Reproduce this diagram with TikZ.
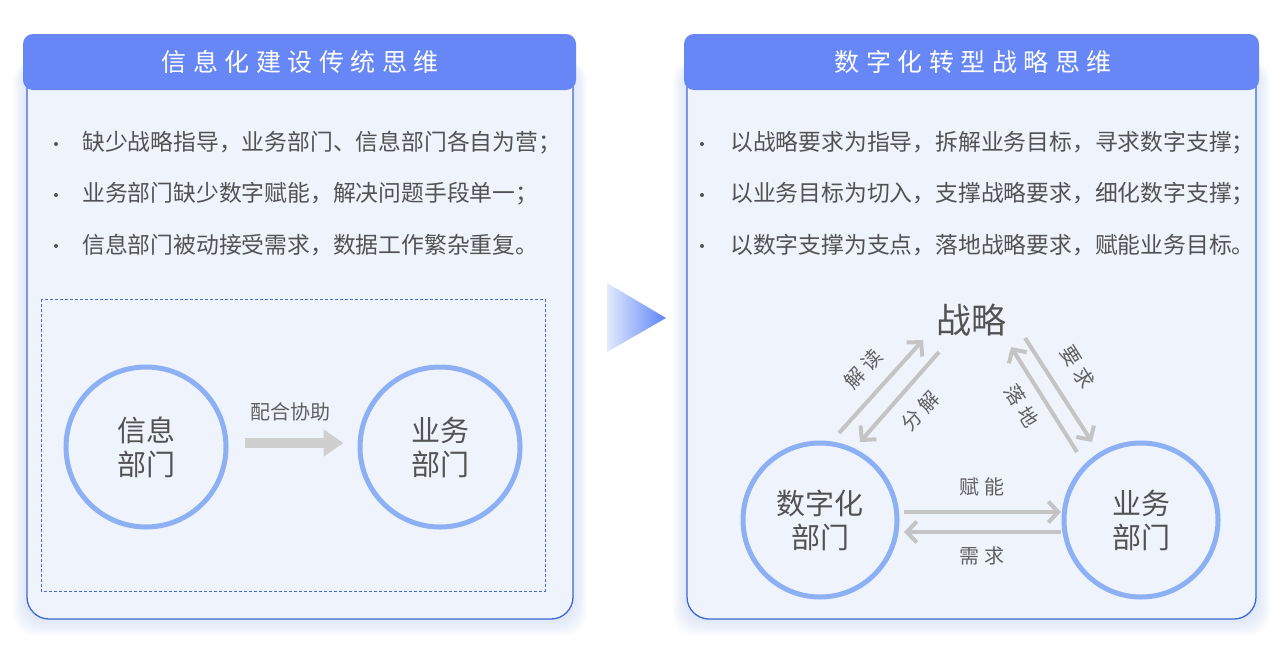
\documentclass[tikz,border=0pt]{standalone}
\usepackage{fontspec}
\setmainfont{Noto Sans CJK SC}
\usetikzlibrary{arrows.meta,calc}
\definecolor{hdrblue}{HTML}{6787F7}
\definecolor{panelfill}{HTML}{EEF3FC}
\definecolor{panelborder}{HTML}{3E68D6}
\definecolor{ringblue}{HTML}{8DB0F4}
\definecolor{arrowgray}{HTML}{C4C4C4}
\definecolor{bargray}{HTML}{CFCFCF}
\definecolor{txtgray}{HTML}{525252}
\definecolor{lblgray}{HTML}{606060}
\definecolor{dashblue}{HTML}{4B6CC8}
\definecolor{glow}{HTML}{9DB8F6}
\definecolor{trilight}{HTML}{E2EAFD}
\definecolor{tridark}{HTML}{5C84F5}
\newcommand{\hk}{\kern6.5pt}
\newcommand{\lk}{\kern5pt}
\tikzset{
  hdrtext/.style={text=white,font=\fontsize{25}{30}\selectfont,inner sep=0pt},
  btext/.style={text=txtgray,font=\fontsize{22.8}{26}\selectfont,anchor=west,inner sep=0pt},
  bdot/.style={circle,fill=txtgray,minimum size=4pt,inner sep=0pt},
  ring/.style={circle,draw=ringblue,line width=5pt,text=txtgray,align=center,inner sep=0pt,font=\fontsize{29}{34}\selectfont},
  bigring/.style={ring,minimum size=160pt},
  smallring/.style={ring,minimum size=154pt},
  tri/.style={draw=arrowgray,line width=4pt,-{Straight Barb[length=10pt,width=21pt]}},
  lbl/.style={text=lblgray,font=\fontsize{20}{24}\selectfont,inner sep=0pt},
}
\begin{document}
\begin{tikzpicture}[x=1pt,y=-1pt]
\useasboundingbox (0,0) rectangle (1280,654);
\fill[white] (0,0) rectangle (1280,654);
% glow
\foreach \i in {1,...,9}{
  \fill[glow,opacity=0.035,rounded corners=22pt] (27-\i*1.6,60) rectangle (573+\i*1.6,619+\i*1.8);
  \fill[glow,opacity=0.035,rounded corners=22pt] (687-\i*1.6,60) rectangle (1256+\i*1.6,619+\i*1.8);
}
% left panel
\draw[panelborder,fill=panelfill,line width=1.3pt,rounded corners=22pt] (27,60) rectangle (573,619);
\fill[hdrblue,rounded corners=10pt] (23,34) rectangle (576,90);
\node[hdrtext] (h1) at (300,62) {信\hk 息\hk 化\hk 建\hk 设\hk 传\hk 统\hk 思\hk 维};
% right panel
\draw[panelborder,fill=panelfill,line width=1.3pt,rounded corners=22pt] (687,60) rectangle (1256,619);
\fill[hdrblue,rounded corners=10pt] (684,34) rectangle (1259,90);
\node[hdrtext] (h2) at (973,62) {数\hk 字\hk 化\hk 转\hk 型\hk 战\hk 略\hk 思\hk 维};
% middle triangle
\shade[left color=trilight,right color=tridark] (607,283) -- (666,318) -- (607,352) -- cycle;
% left bullets
\node[bdot] (ld1) at (56,144) {};
\node[bdot] (ld2) at (56,195) {};
\node[bdot] (ld3) at (56,246) {};
\node[btext] (l1) at (82,143) {缺少战略指导，业务部门、信息部门各自为营；};
\node[btext] (l2) at (82,194) {业务部门缺少数字赋能，解决问题手段单一；};
\node[btext] (l3) at (82,245) {信息部门被动接受需求，数据工作繁杂重复。};
% right bullets
\node[bdot] (rd1) at (702,144) {};
\node[bdot] (rd2) at (702,195) {};
\node[bdot] (rd3) at (702,246) {};
\node[btext] (r1) at (730,143) {以战略要求为指导，拆解业务目标，寻求数字支撑；};
\node[btext] (r2) at (730,194) {以业务目标为切入，支撑战略要求，细化数字支撑；};
\node[btext] (r3) at (730,245) {以数字支撑为支点，落地战略要求，赋能业务目标。};
% left diagram
\draw[dashblue,line width=1pt,dash pattern=on 3pt off 2pt] (41,299) rectangle (545,591);
\node[bigring] (info) at (146,447) {信息\\部门};
\node[bigring] (biz1) at (440,447) {业务\\部门};
\draw[bargray,line width=10pt,-{Triangle[length=20pt,width=26pt]}] ($(info.east)+(16,-4)$) -- ($(biz1.west)+(-14,-4)$);
\node[lbl] (coop) at (290,412) {配合协助};
% right diagram
\node[text=txtgray,font=\fontsize{35}{40}\selectfont,inner sep=0pt] (st) at (971,320) {战略};
\node[smallring] (dig) at (820,520) {数字化\\部门};
\node[smallring] (biz2) at (1141,520) {业务\\部门};
\draw[tri] ($(dig)+(19,-87)$) -- ($(st)+(-48,20)$);
\draw[tri] ($(st)+(-32,32)$) -- ($(dig)+(40,-78)$);
\draw[tri] ($(st)+(54,18)$) -- ($(biz2)+(-49,-78)$);
\draw[tri] ($(biz2)+(-64,-68)$) -- ($(st)+(40,27)$);
\draw[tri] ($(dig)+(84,-8)$) -- ($(biz2)+(-80,-8)$);
\draw[tri] ($(biz2)+(-80,12)$) -- ($(dig)+(84,12)$);
\node[lbl,rotate=47] (jd) at (863,369) {解\lk 读};
\node[lbl,rotate=47] (fj) at (920,411) {分\lk 解};
\node[lbl,rotate=-58] (yq) at (1078,367) {要\lk 求};
\node[lbl,rotate=-58] (ld) at (1022,406) {落\lk 地};
\node[lbl] (fn) at (982,487) {赋\lk 能};
\node[lbl] (xq) at (982,556) {需\lk 求};
\end{tikzpicture}
\end{document}
